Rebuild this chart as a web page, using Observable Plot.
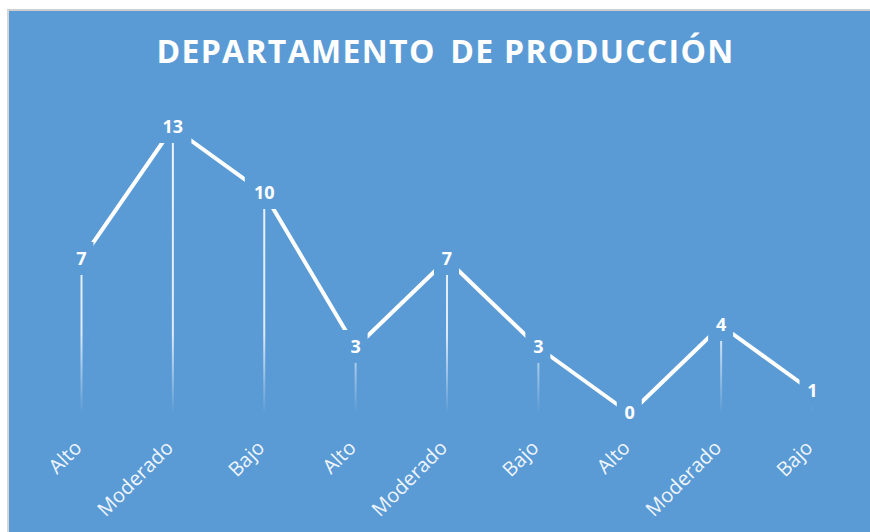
<!DOCTYPE html>
<html>
<head>
<meta charset="utf-8">
<script src="https://cdn.jsdelivr.net/npm/d3@7"></script>
<script src="https://cdn.jsdelivr.net/npm/@observablehq/plot@0.6"></script>
<style>
  html, body { margin: 0; padding: 0; background: white; }
  #panel {
    position: absolute; left: 7px; top: 9px; width: 863px; height: 523px;
    box-sizing: border-box; border-top: 2px solid #cfcfcf; border-left: 2px solid #d6d6d6;
    background: #5B9BD5; overflow: hidden;
  }
  #title {
    height: 80px; line-height: 80px; text-align: center; padding-left: 12px;
    font-family: "Open Sans", sans-serif; font-weight: 700; font-size: 32px;
    letter-spacing: 1.3px; color: white; white-space: pre;
  }
  #title .wide { word-spacing: 5px; }
</style>
</head>
<body>
<div id="panel"><div id="title"><span class="wide">DEPARTAMENTO </span>DE PRODUCCIÓN</div><div id="chart"></div></div>
<script>
const categories = ["Alto", "Moderado", "Bajo", "Alto", "Moderado", "Bajo", "Alto", "Moderado", "Bajo"];
const values = [7, 13, 10, 3, 7, 3, 0, 4, 1];
const BG = "#5B9BD5";

const data = categories.map((c, i) => ({i, c, v: values[i]}));
const one = data.filter(d => String(d.v).length === 1);
const two = data.filter(d => String(d.v).length === 2);

const chart = Plot.plot({
  width: 861,
  height: 441,
  marginLeft: 72,
  marginRight: 58,
  marginTop: 36,
  marginBottom: 119,
  style: {background: "transparent", fontFamily: "'Open Sans', sans-serif", overflow: "visible"},
  x: {domain: [0, categories.length - 1], axis: null},
  y: {domain: [0, 13], axis: null},
  marks: [
    Plot.ruleX(data, {x: "i", y1: 0, y2: "v", stroke: "url(#dropgrad)", strokeWidth: 2}),
    Plot.line(data, {x: "i", y: "v", stroke: "white", strokeWidth: 4}),
    Plot.rect(one, {x1: "i", x2: "i", y1: "v", y2: "v", fill: BG,
      insetLeft: -12.5, insetRight: -12.5, insetTop: -17, insetBottom: -16}),
    Plot.rect(two, {x1: "i", x2: "i", y1: "v", y2: "v", fill: BG,
      insetLeft: -19, insetRight: -19, insetTop: -17, insetBottom: -16}),
    Plot.text(data, {x: "i", y: "v", text: d => String(d.v), fill: "white",
      fontSize: 18, fontWeight: "bold"}),
    Plot.text(data, {x: "i", y: 0, text: "c", rotate: -45, textAnchor: "end",
      dx: -3, dy: 31, fill: "rgba(255,255,255,0.92)", fontSize: 20, letterSpacing: "0.3px"})
  ]
});

const ys = chart.scale("y");
const defs = d3.select(chart).insert("defs", ":first-child");
const g = defs.append("linearGradient")
  .attr("id", "dropgrad")
  .attr("gradientUnits", "userSpaceOnUse")
  .attr("x1", 0).attr("x2", 0)
  .attr("y1", ys.apply(13)).attr("y2", ys.apply(0));
g.append("stop").attr("offset", 0).attr("stop-color", "white").attr("stop-opacity", 0.9);
g.append("stop").attr("offset", 0.72).attr("stop-color", "white").attr("stop-opacity", 0.8);
g.append("stop").attr("offset", 1).attr("stop-color", "white").attr("stop-opacity", 0);

document.getElementById("chart").appendChild(chart);
</script>
</body>
</html>
